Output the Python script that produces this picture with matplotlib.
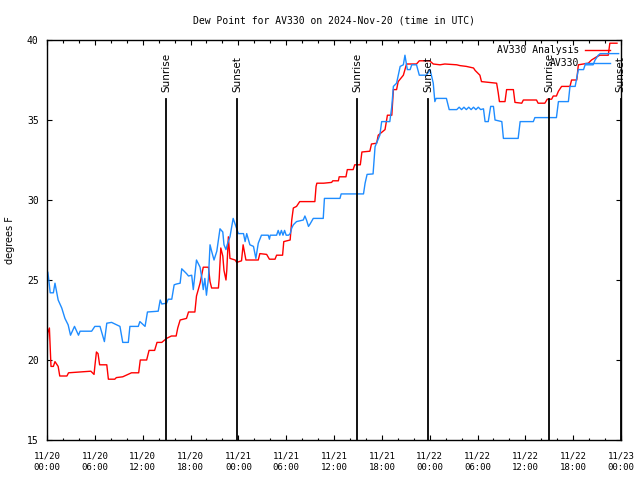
import numpy as np
import pandas as pd
import matplotlib
matplotlib.use('Agg')
import matplotlib.pyplot as plt
import matplotlib.dates as mdates

plt.rcParams['font.family'] = 'DejaVu Sans Mono'

# Dew point, hours after 2024-11-20 00:00 UTC
analysis_hours = [0.0, 0.1, 0.3, 0.5, 0.8, 1.0, 1.4, 1.6, 2.5, 2.7, 5.5, 5.9, 6.0, 6.2, 6.4, 6.6,
                  7.5, 7.7, 8.5, 8.7, 9.5, 10.6, 11.5, 11.7, 12.5, 12.8, 13.5, 13.8, 14.4, 15.0,
                  15.6, 16.2, 16.4, 16.7, 17.5, 17.75, 18.55, 18.75, 19.2, 19.6, 20.25, 20.45,
                  20.65, 21.5, 21.6, 21.8, 22.05, 22.2, 22.45, 22.55, 22.75, 22.95, 23.6, 23.8,
                  24.4, 24.6, 24.95, 26.5, 26.7, 27.55, 27.9, 28.6, 28.8, 29.55, 29.7, 30.5,
                  30.7, 30.9, 31.3, 31.7, 33.6, 33.75, 33.85, 34.7, 35.7, 35.85, 36.55, 36.65,
                  37.5, 37.67, 38.4, 38.6, 39.3, 39.5, 40.5, 40.7, 41.35, 41.55, 42.4, 42.7,
                  43.25, 43.45, 43.85, 44.05, 44.7, 45.1, 46.35, 46.7, 48.0, 48.45, 49.3, 49.9,
                  51.4, 51.8, 52.6, 53.5, 53.7, 54.3, 54.5, 56.4, 56.6, 56.75, 57.45, 57.65,
                  58.5, 58.7, 59.55, 59.75, 61.4, 61.6, 62.45, 62.75, 63.3, 63.5, 63.9, 64.15,
                  64.55, 65.6, 65.8, 66.45, 66.65, 67.9, 68.3, 68.95, 69.35, 70.4, 70.6, 71.5]
analysis_dewpt = [20.8, 21.7, 22.0, 19.6, 19.6, 19.9, 19.6, 19.0, 19.0, 19.2, 19.3, 19.1, 19.6, 20.5, 20.4, 19.7,
                  19.7, 18.8, 18.8, 18.9, 18.95, 19.2, 19.2, 20.0, 20.0, 20.6, 20.6, 21.1, 21.1, 21.35,
                  21.5, 21.5, 22.0, 22.5, 22.6, 23.0, 23.0, 24.0, 24.8, 25.8, 25.8, 24.9,
                  24.5, 24.5, 25.1, 27.0, 26.5, 25.6, 25.0, 25.6, 27.7, 26.35, 26.25, 26.1,
                  26.2, 27.2, 26.25, 26.25, 26.65, 26.6, 26.3, 26.3, 26.55, 26.55, 27.4, 27.5,
                  28.75, 29.5, 29.6, 29.9, 29.9, 30.85, 31.05, 31.05, 31.1, 31.2, 31.2, 31.45,
                  31.45, 31.9, 31.9, 32.2, 32.2, 33.0, 33.05, 33.5, 33.55, 34.05, 34.4, 35.3,
                  35.3, 36.9, 36.9, 37.4, 37.8, 38.5, 38.5, 38.7, 38.7, 38.5, 38.45, 38.5,
                  38.45, 38.4, 38.35, 38.25, 38.1, 37.8, 37.4, 37.3, 36.7, 36.15, 36.15, 36.9,
                  36.9, 36.1, 36.05, 36.25, 36.25, 36.05, 36.05, 36.3, 36.3, 36.5, 36.5, 36.8,
                  37.1, 37.1, 37.5, 37.5, 38.45, 38.55, 38.75, 38.95, 39.05, 39.05, 39.8, 39.8]

station_hours = [0.0, 0.1, 0.25, 0.4, 0.8, 1.0, 1.4, 1.85, 2.25, 2.65, 2.95, 3.45, 3.95, 4.15, 5.6,
                 6.0, 6.65, 7.2, 7.5, 8.1, 9.15, 9.5, 10.2, 10.4, 11.45, 11.65, 12.3, 12.6, 13.95,
                 14.2, 14.4, 15.0, 15.2, 15.65, 15.95, 16.25, 16.7, 16.9, 17.5, 17.75, 18.15,
                 18.35, 18.55, 18.75, 19.2, 19.4, 19.6, 19.8, 20.0, 20.25, 20.45, 20.65, 20.95,
                 21.3, 21.7, 22.05, 22.2, 22.45, 22.6, 22.95, 23.35, 23.6, 23.8, 24.0, 24.3,
                 24.65, 24.85, 25.05, 25.45, 25.9, 26.2, 26.5, 26.9, 27.75, 27.9, 28.0, 28.8,
                 29.0, 29.2, 29.4, 29.6, 29.8, 30.0, 30.3, 30.5, 30.7, 30.9, 31.3, 32.15, 32.35,
                 32.55, 32.8, 33.0, 33.4, 34.65, 34.8, 36.75, 36.9, 39.7, 39.9, 40.15, 40.9,
                 41.15, 41.75, 41.98, 43.0, 43.25, 43.45, 43.85, 44.3, 44.7, 44.9, 45.2, 45.55,
                 45.75, 46.35, 46.7, 47.6, 48.05, 48.45, 48.65, 48.8, 50.1, 50.45, 51.4, 51.7,
                 52.0, 52.3, 52.6, 52.9, 53.2, 53.5, 53.8, 54.1, 54.4, 54.75, 54.95, 55.35,
                 55.65, 56.0, 56.2, 57.05, 57.25, 59.1, 59.35, 61.0, 61.2, 63.9, 64.15, 65.4,
                 65.6, 66.25, 66.65, 67.3, 67.5, 68.5, 68.75, 69.15, 69.4, 71.7]
station_dewpt = [25.0, 25.5, 24.9, 24.2, 24.2, 24.8, 23.75, 23.25, 22.6, 22.2, 21.55, 22.1, 21.55, 21.8, 21.8,
                 22.1, 22.1, 21.15, 22.3, 22.35, 22.1, 21.1, 21.1, 22.1, 22.1, 22.4, 22.1, 23.0, 23.05,
                 23.75, 23.5, 23.55, 23.8, 23.8, 24.7, 24.75, 24.8, 25.7, 25.4, 25.25, 25.3,
                 24.4, 25.3, 26.25, 25.8, 25.2, 24.4, 25.1, 24.05, 25.1, 27.2, 26.8, 26.25,
                 26.8, 28.2, 28.0, 27.2, 26.9, 27.2, 27.7, 28.85, 28.5, 28.2, 27.9, 27.9,
                 27.9, 27.4, 27.9, 27.2, 27.1, 26.35, 27.3, 27.8, 27.8, 27.55, 27.8, 27.8,
                 28.1, 27.8, 28.1, 27.8, 28.1, 27.8, 27.8, 27.9, 28.25, 28.45, 28.65, 28.75, 29.0,
                 28.75, 28.35, 28.5, 28.85, 28.85, 30.1, 30.1, 30.38, 30.38, 31.05, 31.6, 31.63,
                 33.33, 34.05, 34.9, 34.9, 35.85, 37.1, 37.3, 38.35, 38.45, 39.05, 38.15, 38.15,
                 38.45, 38.45, 37.8, 37.8, 38.15, 37.3, 36.15, 36.35, 36.35, 35.65, 35.65, 35.8,
                 35.65, 35.8, 35.65, 35.8, 35.65, 35.8, 35.65, 35.8, 35.65, 35.7, 34.9, 34.9,
                 35.85, 35.85, 35.0, 34.9, 33.85, 33.85, 34.9, 34.9, 35.15, 35.15, 36.15, 36.15,
                 37.1, 37.1, 38.15, 38.15, 38.45, 38.45, 38.75, 39.05, 39.15, 39.15]

sunrise_hours = [14.93, 38.89, 62.97]
sunset_hours = [23.83, 47.79, 71.95]

start = pd.Timestamp('2024-11-20 00:00')
t_an = start + pd.to_timedelta(analysis_hours, unit='h')
t_st = start + pd.to_timedelta(station_hours, unit='h')

fig = plt.figure(figsize=(6.4, 4.8), dpi=100)
ax = fig.add_axes([47 / 640, 40 / 480, 574 / 640, 400 / 480])

ax.plot(t_an, analysis_dewpt, color='#ff0000', lw=1.0, label='AV330 Analysis')
ax.plot(t_st, station_dewpt, color='#1e8cff', lw=1.0, label='AV330')

xt = ax.get_xaxis_transform()
for hrs, name in [(sunrise_hours, 'Sunrise'), (sunset_hours, 'Sunset')]:
    for h in hrs:
        t = start + pd.Timedelta(hours=h)
        ax.axvline(t, ymin=0, ymax=0.8525, color='black', lw=1.3)
        ax.text(t, 0.87, name, transform=xt, rotation=90, ha='center', va='bottom',
                fontsize=7.5, family='DejaVu Sans')

ax.set_xlim(start, start + pd.Timedelta(hours=72))
ax.set_ylim(15, 40)
ax.set_yticks([15, 20, 25, 30, 35, 40])
ax.xaxis.set_major_locator(mdates.HourLocator(byhour=range(0, 24, 6)))
ax.xaxis.set_minor_locator(mdates.HourLocator(byhour=range(0, 24, 2)))
ax.xaxis.set_major_formatter(mdates.DateFormatter('%m/%d\n%H:%M'))

ax.tick_params(which='both', direction='in', top=True, right=True, width=0.8)
ax.tick_params(which='major', length=3.3)
ax.tick_params(which='minor', length=1.8)
ax.tick_params(axis='x', which='major', labelsize=6.5, pad=8)
ax.tick_params(axis='y', labelsize=7, pad=6)
for lab in ax.get_xticklabels():
    lab.set_linespacing(1.35)
for sp in ax.spines.values():
    sp.set_linewidth(1.0)

ax.set_title('Dew Point for AV330 on 2024-Nov-20 (time in UTC)', fontsize=7, pad=12)
ax.set_ylabel('degrees F', fontsize=7, family='DejaVu Sans')
ax.yaxis.set_label_coords(-0.056, 0.5)

ax.legend(loc='upper right', bbox_to_anchor=(0.981, 0.9875), frameon=False, markerfirst=False,
          fontsize=7, handlelength=2.6, handletextpad=0.6, labelspacing=0.35,
          borderpad=0, borderaxespad=0)

fig.savefig('out.png', dpi=100)
